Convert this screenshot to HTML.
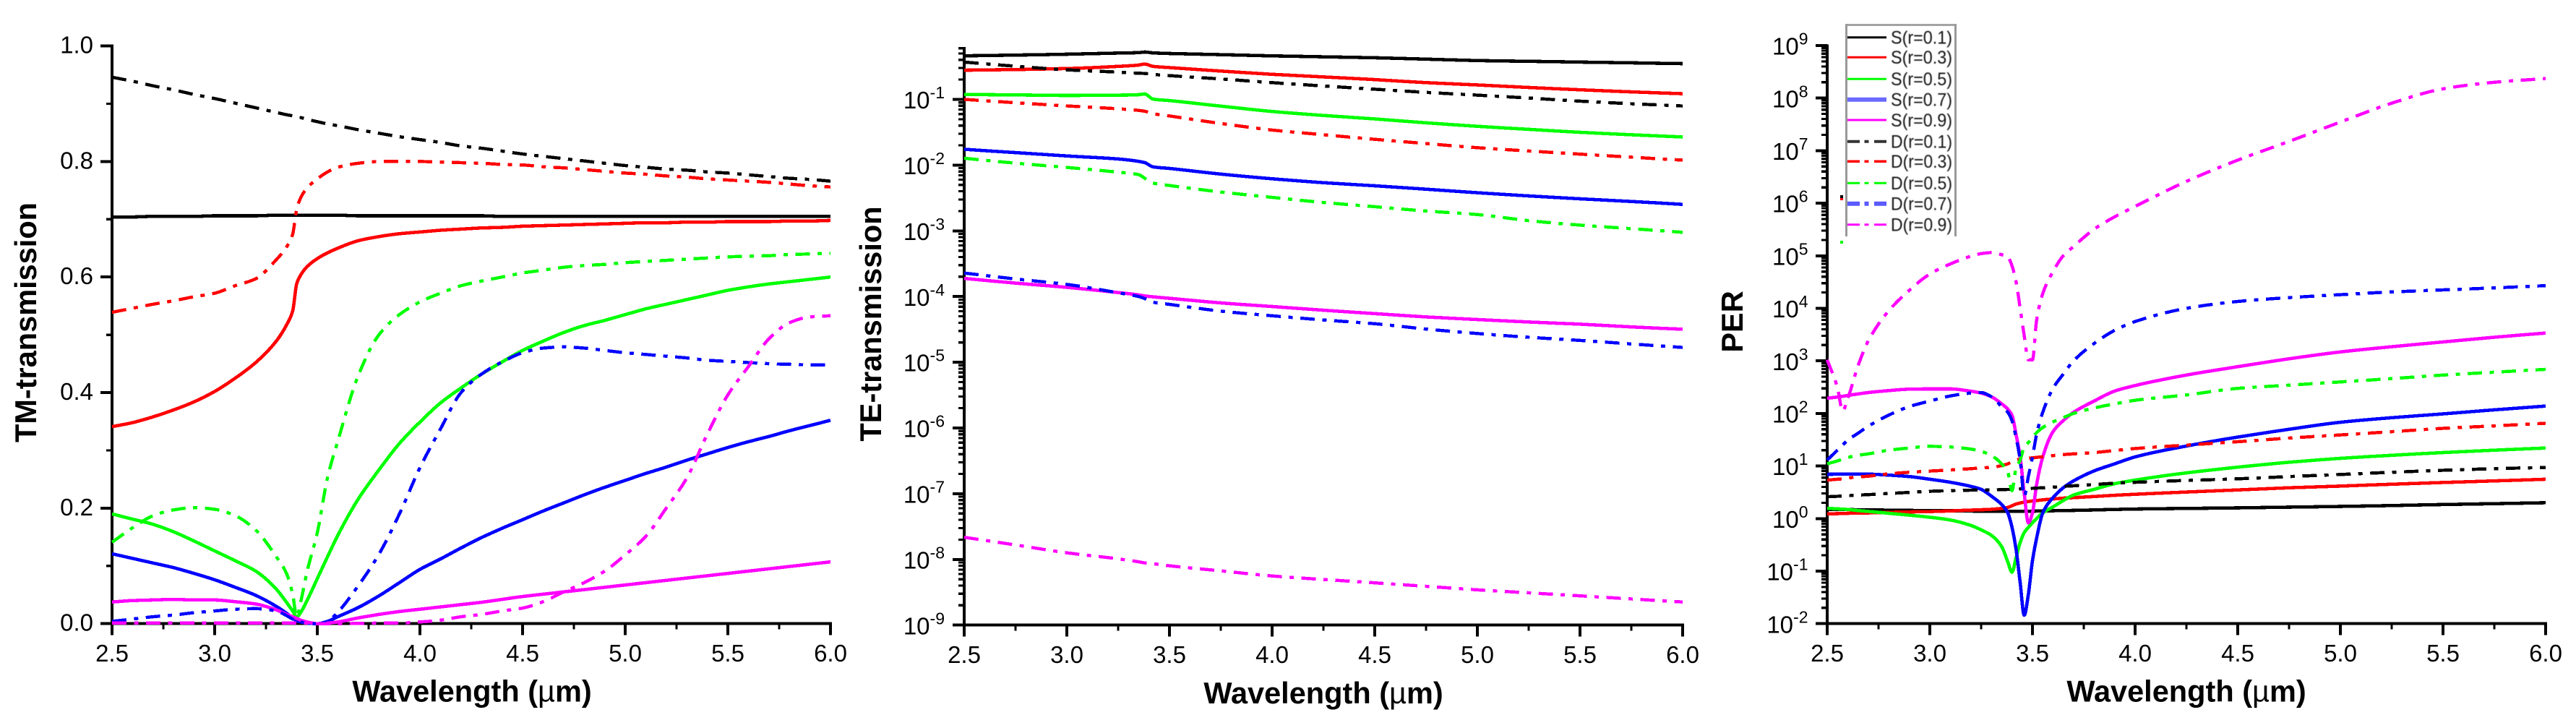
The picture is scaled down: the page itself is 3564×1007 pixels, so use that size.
<!DOCTYPE html>
<html lang="en">
<head>
<meta charset="utf-8">
<title>TM, TE transmission and PER versus wavelength</title>
<style>
html,body{margin:0;padding:0;background:#fff;}
svg{display:block;font-family:"Liberation Sans",sans-serif;}
.tick-label{font-size:33px;fill:#000;}
.axis-title{font-size:41.5px;font-weight:bold;fill:#000;}
.legend-text{font-size:25px;fill:#111;filter:blur(.4px);}
</style>
</head>
<body>
<svg id="figure" xmlns="http://www.w3.org/2000/svg" width="3564" height="1007" viewBox="0 0 3564 1007">
  <rect x="0" y="0" width="3564" height="1007" fill="#fff"/>
  <g id="panel-tm"></g>
  <g id="panel-te"></g>
  <g id="panel-per"></g>

  <text class="axis-title" x="653" y="970.5" text-anchor="middle">Wavelength (<tspan font-weight="normal">µ</tspan>m)</text>
  <text class="axis-title" x="1831" y="973" text-anchor="middle">Wavelength (<tspan font-weight="normal">µ</tspan>m)</text>
  <text class="axis-title" x="3025" y="970.5" text-anchor="middle">Wavelength (<tspan font-weight="normal">µ</tspan>m)</text>
  <text class="axis-title" transform="translate(50,446) rotate(-90)" text-anchor="middle">TM-transmission</text>
  <text class="axis-title" transform="translate(1219,448) rotate(-90)" text-anchor="middle">TE-transmission</text>
  <text class="axis-title" transform="translate(2411,445) rotate(-90)" text-anchor="middle">PER</text>

  <g id="legend">
    <rect x="2553" y="33" width="154" height="294" fill="#fff"/>
    <rect x="2553" y="33" width="154" height="3" fill="#a3a3a3"/>
    <rect x="2553" y="33" width="3" height="294" fill="#999"/>
    <rect x="2704" y="33" width="3" height="294" fill="#999"/>
    <line x1="2556" x2="2610" y1="51.7" y2="51.7" stroke="#000" stroke-width="3"/>
    <text class="legend-text" x="2616" y="60.5" textLength="85" lengthAdjust="spacingAndGlyphs">S(r=0.1)</text>
    <line x1="2556" x2="2610" y1="79.3" y2="79.3" stroke="#f00" stroke-width="3"/>
    <text class="legend-text" x="2616" y="88" textLength="85" lengthAdjust="spacingAndGlyphs">S(r=0.3)</text>
    <line x1="2556" x2="2610" y1="109.3" y2="109.3" stroke="#0f0" stroke-width="3"/>
    <text class="legend-text" x="2616" y="118" textLength="85" lengthAdjust="spacingAndGlyphs">S(r=0.5)</text>
    <line x1="2556" x2="2610" y1="137.7" y2="137.7" stroke="#6a6aff" stroke-width="6"/>
    <text class="legend-text" x="2616" y="146.5" textLength="85" lengthAdjust="spacingAndGlyphs">S(r=0.7)</text>
    <line x1="2556" x2="2610" y1="166" y2="166" stroke="#f0f" stroke-width="3"/>
    <text class="legend-text" x="2616" y="175" textLength="85" lengthAdjust="spacingAndGlyphs">S(r=0.9)</text>
    <line x1="2556" x2="2610" y1="195.7" y2="195.7" stroke="#333" stroke-width="4" stroke-dasharray="17 6.5 6 7.5 17"/>
    <text class="legend-text" x="2616" y="204.5" textLength="85" lengthAdjust="spacingAndGlyphs">D(r=0.1)</text>
    <line x1="2556" x2="2610" y1="223.3" y2="223.3" stroke="#f00" stroke-width="3.5" stroke-dasharray="17 6.5 6 7.5 17"/>
    <text class="legend-text" x="2616" y="232" textLength="85" lengthAdjust="spacingAndGlyphs">D(r=0.3)</text>
    <line x1="2556" x2="2610" y1="253.3" y2="253.3" stroke="#0f0" stroke-width="3" stroke-dasharray="17 6.5 6 7.5 17"/>
    <text class="legend-text" x="2616" y="262" textLength="85" lengthAdjust="spacingAndGlyphs">D(r=0.5)</text>
    <line x1="2556" x2="2610" y1="281.7" y2="281.7" stroke="#5a5aff" stroke-width="6" stroke-dasharray="17 6.5 6 7.5 17"/>
    <text class="legend-text" x="2616" y="290.5" textLength="85" lengthAdjust="spacingAndGlyphs">D(r=0.7)</text>
    <line x1="2556" x2="2610" y1="310.7" y2="310.7" stroke="#f0f" stroke-width="3" stroke-dasharray="17 6.5 6 7.5 17"/>
    <text class="legend-text" x="2616" y="319.5" textLength="85" lengthAdjust="spacingAndGlyphs">D(r=0.9)</text>
  </g>
  <rect x="2546" y="270" width="4" height="4" fill="#000"/>
  <rect x="2546" y="274" width="4" height="3" fill="#f00"/>
  <rect x="2546" y="333" width="4" height="4" fill="#0f0"/>
</svg>

<script>
// ---------- shared tick labels ----------
const xTickLabels = ['2.5', '3.0', '3.5', '4.0', '4.5', '5.0', '5.5', '6.0'];
const xMinorTicks = [2.75, 3.25, 3.75, 4.25, 4.75, 5.25, 5.75];
const tmTickLabels = ['0.0', '0.2', '0.4', '0.6', '0.8', '1.0'];
const tmMinorTicks = [0.1, 0.3, 0.5, 0.7, 0.9];
const teExponents = [-1, -2, -3, -4, -5, -6, -7, -8, -9];
const perExponents = [9, 8, 7, 6, 5, 4, 3, 2, 1, 0, -1, -2];

// ---------- TM-transmission data ----------
const tmWavelengths = [2.5,2.6,2.7,2.8,2.9, 3.0,3.1,3.2,3.3,3.35, 3.38,3.4,3.42,3.45,3.5, 3.55,3.6,3.7,3.8,3.9,
  4.0,4.1,4.2,4.3,4.4,4.5,4.6,4.7,4.8,4.9, 5.0,5.1,5.2,5.3,5.4,5.5,5.6,5.7,5.8,5.9,6.0];
const tmSr01 = [.704,.704,.705,.705,.705, .706,.706,.706,.707,.707, .707,.707,.707,.707,.707, .707,.707,.706,.706,.706,
  .706,.706,.706,.706,.705,.705,.705,.705,.705,.705, .705,.705,.705,.705,.705,.705,.705,.705,.705,.705,.705];
const tmSr03 = [.341,.348,.358,.370,.384, .402,.425,.452,.489,.517, .541,.589,.604,.618,.632, .642,.650,.663,.670,.675,
  .678,.681,.683,.685,.686,.688,.689,.690,.691,.692, .693,.694,.694,.695,.695,.696,.696,.696,.697,.697,.698];
const tmSr05 = [.19,.181,.172,.159,.143, .126,.109,.091,.06,.037, .022,.012,.02,.04,.078, .116,.153,.216,.266,.312,
  .349,.382,.408,.432,.453,.473,.489,.504,.516,.525, .535,.545,.553,.561,.569,.577,.583,.588,.592,.596,.60];
const tmSr07 = [.121,.113,.105,.097,.087, .076,.063,.049,.03,.018, .01,.005,.003,.001,0, .004,.012,.028,.048,.071,
  .094,.112,.131,.149,.165,.18,.195,.209,.223,.236, .248,.26,.271,.283,.294,.305,.315,.324,.334,.343,.352];
const tmSr09 = [.0375,.04,.041,.042,.041, .041,.038,.034,.024,.016, .012,.009,.006,.003,0, .001,.003,.010,.016,.021,
  .025,.029,.033,.037,.042,.047,.051,.055,.059,.063, .067,.071,.075,.079,.083,.087,.091,.095,.099,.103,.107];
const tmDr01 = [.946,.939,.931,.924,.916, .909,.901,.893,.885,.881, .879,.877,.876,.873,.869, .865,.862,.855,.849,.843,
  .838,.833,.827,.823,.818,.813,.809,.805,.801,.797, .793,.79,.787,.785,.782,.78,.777,.774,.771,.769,.766];
const tmDr03 = [.539,.546,.553,.559,.566, .572,.585,.597,.63,.652, .674,.718,.738,.754,.77, .782,.79,.797,.80,.80,
  .80,.799,.798,.797,.795,.794,.791,.789,.786,.783, .78,.778,.775,.773,.77,.768,.766,.764,.761,.758,.756];
const tmDr05 = [.141,.166,.187,.197,.201, .198,.187,.162,.116,.087, .051,.012,.039,.09,.1575, .253,.316,.43,.50,.535,
  .557,.572,.585,.593,.6,.607,.612,.617,.62,.622, .625,.627,.629,.631,.633,.635,.636,.637,.639,.64,.641];
const tmDr07 = [.004,.008,.012,.015,.019, .022,.025,.026,.022,.014, .008,.005,.003,.001,0, .004,.02,.066,.12,.19,
  .27,.337,.40,.432,.453,.469,.477,.479,.477,.473, .469,.466,.463,.46,.456,.454,.452,.45,.449,.448,.448];
const tmDr09 = [.001,.001,.001,.001,.001, .001,.001,.001,.001,.001, .001,.001,.001,.001,0, 0,0,.0005,.001,.001,
  .003,.006,.012,.016,.022,.027,.038,.055,.071,.091, .119,.151,.2,.252,.328,.396,.445,.493,.521,.531,.533];

// ---------- TE-transmission data ----------
const teWavelengths = [2.5,2.75,3.0,3.25,3.35,3.38,3.42,3.5,3.75,4.0,4.25,4.5,4.75,5.0,5.25,5.5,5.75,6.0];
const teSr01 = [.461,.472,.487,.507,.515,.525,.51,.50,.48,.46,.445,.43,.41,.39,.38,.37,.36,.35];
const teSr03 = [.278,.285,.295,.318,.333,.345,.318,.305,.27,.241,.22,.2,.18,.166,.152,.14,.13,.122];
const teSr05 = [.119,.117,.115,.116,.118,.121,.101,.096,.079,.0655,.057,.0505,.044,.039,.035,.0316,.029,.0268];
const teSr07 = [.0174,.0155,.0138,.0124,.0114,.0109,.0094,.0089,.0073,.0062,.0054,.00485,.0043,.0038,.0034,.00307,.0028,.00253];
const teSr09 = [1.89e-4,1.6e-4,1.38e-4,1.15e-4,1.06e-4,1.02e-4,9.9e-5,9.4e-5,8e-5,7.05e-5,6.2e-5,5.5e-5,4.9e-5,4.47e-5,4.1e-5,3.8e-5,3.45e-5,3.18e-5];
const teDr01 = [.37,.32,.282,.26,.25,.248,.24,.23,.205,.18,.16,.143,.128,.116,.105,.094,.086,.0795];
const teDr03 = [.1,.089,.0796,.072,.068,.066,.0607,.056,.043,.0342,.029,.0247,.0213,.0184,.0164,.0147,.0132,.0119];
const teDr05 = [.01273,.0107,.00923,.0078,.00716,.0063,.00533,.0049,.0039,.00323,.0027,.00233,.002,.00177,.00143,.00122,.00108,.00095];
const teDr07 = [2.28e-4,1.85e-4,1.53e-4,1.14e-4,1e-4,9.3e-5,8.2e-5,7.6e-5,6e-5,5.1e-5,4.4e-5,3.86e-5,3.2e-5,2.74e-5,2.4e-5,2.15e-5,1.9e-5,1.68e-5];
const teDr09 = [2.17e-8,1.66e-8,1.26e-8,1.02e-8,9.2e-9,8.85e-9,8.6e-9,8e-9,6.7e-9,5.6e-9,4.95e-9,4.4e-9,3.9e-9,3.44e-9,3.1e-9,2.79e-9,2.5e-9,2.25e-9];

// ---------- PER data ----------
const perWavelengths = [2.5,2.55,2.575,2.6,2.65,2.7,2.8,2.9,3.0,3.1,3.2,3.25,3.3,3.35,3.38,3.4,3.42,3.44,3.46,3.48,3.5,3.52,3.55,3.6,3.65,3.7,3.8,3.9,4.0,4.25,4.5,4.75,5.0,5.25,5.5,5.75,6.0];
const perSr01 = [1.5,1.49,1.49,1.48,1.47,1.46,1.45,1.43,1.42,1.41,1.39,1.38,1.38,1.37,1.37,1.37,1.37,1.37,1.37,1.38,1.38,1.39,1.40,1.41,1.42,1.43,1.46,1.49,1.52,1.56,1.6,1.65,1.7,1.77,1.85,1.92,2.0];
const perSr03 = [1.23,1.24,1.25,1.26,1.27,1.28,1.31,1.34,1.36,1.4,1.45,1.47,1.5,1.56,1.63,1.75,1.89,1.98,2.05,2.11,2.16,2.2,2.27,2.36,2.44,2.5,2.63,2.77,2.9,3.2,3.5,3.85,4.15,4.5,4.85,5.2,5.6];
const perSr05 = [1.57,1.53,1.51,1.49,1.42,1.37,1.26,1.16,1.06,.94,.74,.61,.48,.293,.149,.095,.18,.352,.54,.68,.83,1.0,1.28,1.67,2.2,2.8,3.6,4.6,5.4,7.4,9.5,11.8,14,16,18,20,22];
const perSr07 = [6.95,7,7,7,7,7,6.7,6.3,5.6,4.9,4.1,3.6,2.67,1.85,1.28,.69,.26,.06,.0145,.036,.158,.42,1.28,2.5,3.86,5.2,8.05,11,14.9,24,35.5,50,68,83,98,117,138];
const perSr09 = [195,205,212,220,235,250,272,290,293,293,265,244,208,153,120,93,40,14.8,3,.83,1.28,4.4,14.8,45,73,105,172,266,340,537,776,1096,1480,1860,2290,2820,3390];
const perDr01 = [2.6,2.65,2.68,2.72,2.8,2.85,3.0,3.15,3.3,3.4,3.47,3.5,3.5,3.55,3.58,3.6,3.62,3.65,3.7,3.73,3.76,3.8,3.85,3.95,4.1,4.2,4.45,4.7,4.9,5.3,5.7,6.3,6.9,7.6,8.3,8.9,9.4];
const perDr03 = [5.4,5.6,5.7,5.9,6.2,6.4,7.1,7.6,8,8.4,8.9,9.2,9.4,10.2,11,12,13,13.5,13.8,14.1,14.3,14.6,15,15.8,16.5,17,18,19.7,21.5,25,29,34,39,45,52,58,65];
const perDr05 = [11,12.5,13.5,14.5,16,17,20,22,23.7,23,21,19,15.8,11,7.6,3.4,9.1,13,23,28,35,43,54,69,83,100,127,152,178,225,300,345,398,460,537,610,690];
const perDr07 = [13,20,25,31,42,57,93,135,172,215,244,250,208,135,105,73,35,13,2.67,6.3,14.8,40,105,300,560,1000,2140,3800,5600,10000,13500,16000,18200,20500,22400,24500,27000];
const perDr09 = [1050,310,112,190,800,2400,9000,2.2e4,4.5e4,7e4,9.8e4,1.1e5,1.15e5,1.05e5,9.5e4,6.5e4,3.2e4,1e4,3e3,1050,1050,5900,1.9e4,5e4,1e5,1.5e5,3.2e5,5.5e5,8.7e5,2.6e6,6.6e6,1.5e7,3.5e7,8e7,1.5e8,2e8,2.35e8];

// ---------- series styling ----------
const seriesColors = ['#000', '#f00', '#0f0', '#00f', '#f0f'];
const seriesNames = ['r01', 'r03', 'r05', 'r07', 'r09'];

const NS = 'http://www.w3.org/2000/svg';
const xDomain = [2.5, 6.0];

function svgEl(tag, parent, attrs) {
  const el = document.createElementNS(NS, tag);
  for (const k in attrs) el.setAttribute(k, attrs[k]);
  parent.appendChild(el);
  return el;
}

// Smooth monotone curve through the data points (pixel space).
function curvePath(px, py) {
  const n = px.length;
  const d = [];
  for (let i = 0; i < n - 1; i++) d.push((py[i + 1] - py[i]) / (px[i + 1] - px[i]));
  const m = [d[0]];
  for (let i = 1; i < n - 1; i++) {
    if (d[i - 1] * d[i] <= 0) {
      m.push(0);
    } else {
      const h0 = px[i] - px[i - 1], h1 = px[i + 1] - px[i];
      const w0 = 2 * h1 + h0, w1 = h1 + 2 * h0;
      m.push((w0 + w1) / (w0 / d[i - 1] + w1 / d[i]));
    }
  }
  m.push(d[n - 2]);
  let s = 'M' + px[0].toFixed(1) + ' ' + py[0].toFixed(1);
  for (let i = 0; i < n - 1; i++) {
    const h = px[i + 1] - px[i];
    s += 'C' + (px[i] + h / 3).toFixed(1) + ' ' + (py[i] + m[i] * h / 3).toFixed(1) + ' ' +
      (px[i + 1] - h / 3).toFixed(1) + ' ' + (py[i + 1] - m[i + 1] * h / 3).toFixed(1) + ' ' +
      px[i + 1].toFixed(1) + ' ' + py[i + 1].toFixed(1);
  }
  return s;
}

function drawAxes(g, xScale, yScale, box, yTicks) {
  const xAxis = svgEl('line', g, {x1: box.x0 - 16, x2: box.x1 + 2, y1: box.y0, y2: box.y0, stroke: '#000', 'stroke-width': 4, 'shape-rendering': 'crispEdges'});
  
  
  const yAxis = svgEl('line', g, {x1: box.x0, x2: box.x0, y1: box.yTop - 2, y2: box.y0 + 2, stroke: '#000', 'stroke-width': 4, 'shape-rendering': 'crispEdges'});
  
  

  xTickLabels.forEach(function (label) {
    const v = parseFloat(label);
    const tick = svgEl('line', g, {x1: xScale(v), x2: xScale(v), y1: box.y0, y2: box.y0 + 16, stroke: '#000', 'stroke-width': 4, 'shape-rendering': 'crispEdges'});
    
    
    const text = svgEl('text', g, {x: xScale(v), y: box.y0 + 52.5, 'text-anchor': 'middle', class: 'tick-label'});
    text.textContent = label;
    
    
  });
  xMinorTicks.forEach(function (v) {
    const tick = svgEl('line', g, {x1: xScale(v), x2: xScale(v), y1: box.y0, y2: box.y0 + 8, stroke: '#000', 'stroke-width': 3.4, 'shape-rendering': 'crispEdges'});
    
    
  });
  yTicks(g, yScale);
}

function drawLogTicks(g, yScale, box, exponents, labelRight, topLimit) {
  exponents.forEach(function (e) {
    const y = yScale(Math.pow(10, e));
    const tick = svgEl('line', g, {x1: box.x0 - 16, x2: box.x0, y1: y, y2: y, stroke: '#000', 'stroke-width': 4, 'shape-rendering': 'crispEdges'});
    
    
    const text = svgEl('text', g, {x: labelRight, y: y + 12.6, 'text-anchor': 'end', class: 'tick-label'});
    
    
    const base = svgEl('tspan', text, {});
    base.textContent = '10';
    const sup = svgEl('tspan', text, {dy: -14, 'font-size': 23});
    sup.textContent = String(e);
  });
  const lowest = Math.min.apply(null, exponents);
  const highest = Math.max.apply(null, exponents);
  for (let e = lowest; e <= highest + 1; e++) {
    for (let m = 2; m <= 9; m++) {
      const v = m * Math.pow(10, e);
      if (v > topLimit * 1.0001) continue;
      const y = yScale(v);
      const tick = svgEl('line', g, {x1: box.x0 - 8, x2: box.x0, y1: y, y2: y, stroke: '#000', 'stroke-width': 3.2, 'shape-rendering': 'crispEdges'});
      
      
    }
  }
}

function drawSeries(g, xScale, yScale, xs, solid, dashed) {
  const px = xs.map(xScale);
  solid.forEach(function (values, i) {
    const curve = svgEl('path', g, {d: curvePath(px, values.map(yScale)), fill: 'none', stroke: seriesColors[i], 'stroke-width': 4.6, 'stroke-linejoin': 'round', 'shape-rendering': 'crispEdges'});
    
    
  });
  dashed.forEach(function (values, i) {
    const curve = svgEl('path', g, {d: curvePath(px, values.map(yScale)), fill: 'none', stroke: seriesColors[i], 'stroke-width': 4.4, 'stroke-dasharray': '20 10.5 6 10.5', 'shape-rendering': 'crispEdges'});
    
    
  });
}

// ---------- TM panel ----------
(function () {
  const g = document.getElementById('panel-tm');
  const box = {x0: 155, x1: 1149, y0: 862.7, yTop: 63.6};
  const xScale = function (v) { return box.x0 + (v - xDomain[0]) * (box.x1 - box.x0) / (xDomain[1] - xDomain[0]); };
  const yScale = function (v) { return box.y0 - v * (box.y0 - box.yTop); };
  drawAxes(g, xScale, yScale, box, function (g) {
    tmTickLabels.forEach(function (label) {
      const v = parseFloat(label);
      const y = yScale(v);
      const tick = svgEl('line', g, {x1: box.x0 - 16, x2: box.x0, y1: y, y2: y, stroke: '#000', 'stroke-width': 4, 'shape-rendering': 'crispEdges'});
      
      
      const text = svgEl('text', g, {x: 129, y: y + 10, 'text-anchor': 'end', class: 'tick-label'});
      text.textContent = label;
      
      
    });
    tmMinorTicks.forEach(function (v) {
      const y = yScale(v);
      const tick = svgEl('line', g, {x1: box.x0 - 8, x2: box.x0, y1: y, y2: y, stroke: '#000', 'stroke-width': 3.4, 'shape-rendering': 'crispEdges'});
      
      
    });
  });
  drawSeries(g, xScale, yScale, tmWavelengths, [tmSr01, tmSr03, tmSr05, tmSr07, tmSr09], [tmDr01, tmDr03, tmDr05, tmDr07, tmDr09]);
})();

// ---------- TE panel ----------
(function () {
  const g = document.getElementById('panel-te');
  const decade = 90.9;
  const box = {x0: 1334, x1: 2328, y0: 864.7, yTop: 67};
  const xScale = function (v) { return box.x0 + (v - xDomain[0]) * (box.x1 - box.x0) / (xDomain[1] - xDomain[0]); };
  const yScale = function (v) { return box.y0 - (Math.log10(v) + 9) * decade; };
  drawAxes(g, xScale, yScale, box, function (g) {
    drawLogTicks(g, yScale, box, teExponents, 1307, 0.6);
  });
  drawSeries(g, xScale, yScale, teWavelengths, [teSr01, teSr03, teSr05, teSr07, teSr09], [teDr01, teDr03, teDr05, teDr07, teDr09]);
})();

// ---------- PER panel ----------
(function () {
  const g = document.getElementById('panel-per');
  const decade = 72.7;
  const box = {x0: 2528, x1: 3522, y0: 862.7, yTop: 63.3};
  const xScale = function (v) { return box.x0 + (v - xDomain[0]) * (box.x1 - box.x0) / (xDomain[1] - xDomain[0]); };
  const yScale = function (v) { return box.y0 - (Math.log10(v) + 2) * decade; };
  drawAxes(g, xScale, yScale, box, function (g) {
    drawLogTicks(g, yScale, box, perExponents, 2501.5, 1e9);
  });
  drawSeries(g, xScale, yScale, perWavelengths, [perSr01, perSr03, perSr05, perSr07, perSr09], [perDr01, perDr03, perDr05, perDr07, perDr09]);
})();
</script>
</body>
</html>
